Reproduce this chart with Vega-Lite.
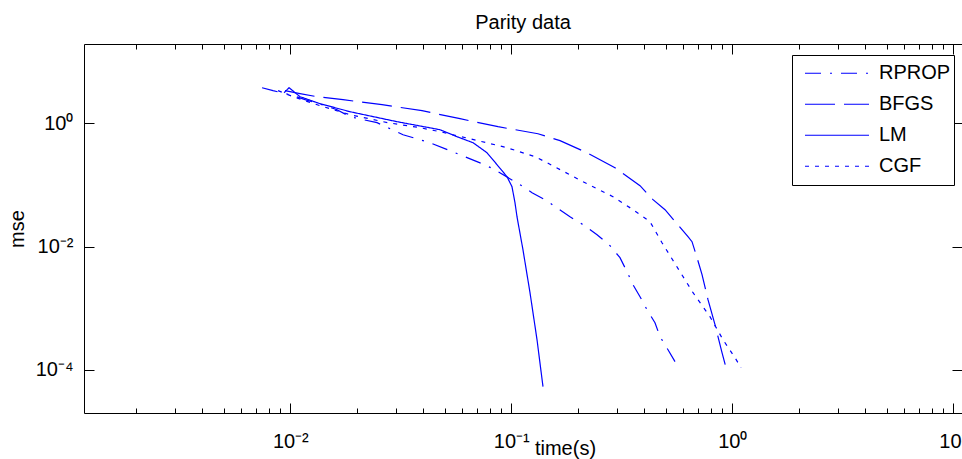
{
  "$schema": "https://vega.github.io/schema/vega-lite/v6.json",
  "width": 878,
  "height": 369,
  "autosize": {"type": "none"},
  "padding": {"left": 84, "top": 44, "right": 0, "bottom": 46},
  "background": "white",
  "title": {"text": "Parity data", "font": "Liberation Sans", "fontSize": 20, "fontWeight": "normal", "color": "#000000", "anchor": "middle", "baseline": "alphabetic", "offset": 17, "dy": 22},
  "config": {
    "view": {"stroke": "#000000", "strokeWidth": 1},
    "axis": {"domain": false, "grid": false, "labelFont": "Liberation Sans", "labelFontSize": 20, "labelColor": "#000000", "tickColor": "#000000", "tickWidth": 1, "titleFont": "Liberation Sans", "titleFontSize": 20, "titleFontWeight": "normal", "titleColor": "#000000", "labelFlush": false, "labelOverlap": false, "labelBound": false}
  },
  "data": {"values": [
    {"method": "RPROP", "t": 0.00745, "mse": 3.80},
    {"method": "RPROP", "t": 0.00835, "mse": 3.40},
    {"method": "RPROP", "t": 0.0100, "mse": 2.92},
    {"method": "RPROP", "t": 0.01166, "mse": 2.43},
    {"method": "RPROP", "t": 0.01391, "mse": 2.01},
    {"method": "RPROP", "t": 0.01627, "mse": 1.67},
    {"method": "RPROP", "t": 0.01863, "mse": 1.285},
    {"method": "RPROP", "t": 0.02468, "mse": 1.027},
    {"method": "RPROP", "t": 0.03236, "mse": 0.655},
    {"method": "RPROP", "t": 0.04285, "mse": 0.486},
    {"method": "RPROP", "t": 0.05561, "mse": 0.334},
    {"method": "RPROP", "t": 0.07368, "mse": 0.2216},
    {"method": "RPROP", "t": 0.08265, "mse": 0.1837},
    {"method": "RPROP", "t": 0.1095, "mse": 0.101},
    {"method": "RPROP", "t": 0.1241, "mse": 0.0749},
    {"method": "RPROP", "t": 0.1421, "mse": 0.0577},
    {"method": "RPROP", "t": 0.1627, "mse": 0.0412},
    {"method": "RPROP", "t": 0.1843, "mse": 0.0305},
    {"method": "RPROP", "t": 0.2111, "mse": 0.02264},
    {"method": "RPROP", "t": 0.2443, "mse": 0.01558},
    {"method": "RPROP", "t": 0.2797, "mse": 0.01032},
    {"method": "RPROP", "t": 0.3103, "mse": 0.00659},
    {"method": "RPROP", "t": 0.3339, "mse": 0.0039},
    {"method": "RPROP", "t": 0.3554, "mse": 0.0024},
    {"method": "RPROP", "t": 0.3823, "mse": 0.001533},
    {"method": "RPROP", "t": 0.4111, "mse": 0.000943},
    {"method": "RPROP", "t": 0.4468, "mse": 0.00058},
    {"method": "RPROP", "t": 0.4709, "mse": 0.000344},
    {"method": "RPROP", "t": 0.5117, "mse": 0.000211},
    {"method": "RPROP", "t": 0.5505, "mse": 0.000135},
    {"method": "BFGS", "t": 0.00946, "mse": 3.40},
    {"method": "BFGS", "t": 0.01106, "mse": 3.04},
    {"method": "BFGS", "t": 0.0132, "mse": 2.715},
    {"method": "BFGS", "t": 0.01732, "mse": 2.427},
    {"method": "BFGS", "t": 0.026, "mse": 2.012},
    {"method": "BFGS", "t": 0.03944, "mse": 1.608},
    {"method": "BFGS", "t": 0.05859, "mse": 1.192},
    {"method": "BFGS", "t": 0.08706, "mse": 0.884},
    {"method": "BFGS", "t": 0.132, "mse": 0.680},
    {"method": "BFGS", "t": 0.1661, "mse": 0.524},
    {"method": "BFGS", "t": 0.2201, "mse": 0.334},
    {"method": "BFGS", "t": 0.2945, "mse": 0.1908},
    {"method": "BFGS", "t": 0.3823, "mse": 0.0973},
    {"method": "BFGS", "t": 0.4377, "mse": 0.0577},
    {"method": "BFGS", "t": 0.4961, "mse": 0.0397},
    {"method": "BFGS", "t": 0.6302, "mse": 0.01445},
    {"method": "BFGS", "t": 0.6572, "mse": 0.0120},
    {"method": "BFGS", "t": 0.6925, "mse": 0.00659},
    {"method": "BFGS", "t": 0.7295, "mse": 0.00349},
    {"method": "BFGS", "t": 0.7762, "mse": 0.00137},
    {"method": "BFGS", "t": 0.835, "mse": 0.000538},
    {"method": "BFGS", "t": 0.8983, "mse": 0.000189},
    {"method": "BFGS", "t": 0.9365, "mse": 0.0001078},
    {"method": "LM", "t": 0.00937, "mse": 3.15},
    {"method": "LM", "t": 0.00987, "mse": 3.80},
    {"method": "LM", "t": 0.01106, "mse": 2.715},
    {"method": "LM", "t": 0.01363, "mse": 2.089},
    {"method": "LM", "t": 0.01863, "mse": 1.549},
    {"method": "LM", "t": 0.0304, "mse": 1.066},
    {"method": "LM", "t": 0.04757, "mse": 0.790},
    {"method": "LM", "t": 0.05679, "mse": 0.608},
    {"method": "LM", "t": 0.06709, "mse": 0.486},
    {"method": "LM", "t": 0.07762, "mse": 0.334},
    {"method": "LM", "t": 0.08615, "mse": 0.2135},
    {"method": "LM", "t": 0.09561, "mse": 0.1363},
    {"method": "LM", "t": 0.1007, "mse": 0.0938},
    {"method": "LM", "t": 0.1039, "mse": 0.0515},
    {"method": "LM", "t": 0.1061, "mse": 0.0305},
    {"method": "LM", "t": 0.1129, "mse": 0.00889},
    {"method": "LM", "t": 0.1215, "mse": 0.00178},
    {"method": "LM", "t": 0.1307, "mse": 0.000307},
    {"method": "LM", "t": 0.1391, "mse": 0.000053},
    {"method": "CGF", "t": 0.0088, "mse": 3.40},
    {"method": "CGF", "t": 0.01028, "mse": 2.715},
    {"method": "CGF", "t": 0.01363, "mse": 1.939},
    {"method": "CGF", "t": 0.01863, "mse": 1.384},
    {"method": "CGF", "t": 0.02767, "mse": 1.027},
    {"method": "CGF", "t": 0.03863, "mse": 0.852},
    {"method": "CGF", "t": 0.04757, "mse": 0.733},
    {"method": "CGF", "t": 0.06501, "mse": 0.564},
    {"method": "CGF", "t": 0.09561, "mse": 0.403},
    {"method": "CGF", "t": 0.128, "mse": 0.2878},
    {"method": "CGF", "t": 0.145, "mse": 0.230},
    {"method": "CGF", "t": 0.2111, "mse": 0.113},
    {"method": "CGF", "t": 0.2885, "mse": 0.0645},
    {"method": "CGF", "t": 0.3554, "mse": 0.0397},
    {"method": "CGF", "t": 0.4242, "mse": 0.0253},
    {"method": "CGF", "t": 0.4807, "mse": 0.01155},
    {"method": "CGF", "t": 0.5799, "mse": 0.0039},
    {"method": "CGF", "t": 0.6642, "mse": 0.00178},
    {"method": "CGF", "t": 0.7924, "mse": 0.000726},
    {"method": "CGF", "t": 0.9077, "mse": 0.000307},
    {"method": "CGF", "t": 1.0285, "mse": 0.0001566},
    {"method": "CGF", "t": 1.095, "mse": 0.0001078}
  ]},
  "resolve": {"axis": {"x": "independent", "y": "independent"}},
  "layer": [
    {
      "mark": {"type": "line", "color": "#0000ff", "strokeWidth": 1.2, "clip": true},
      "encoding": {
        "x": {"field": "t", "type": "quantitative",
          "scale": {"type": "log", "domain": [0.001165, 10.95], "nice": false, "zero": false},
          "axis": {"orient": "bottom",
            "values": [0.002,0.003,0.004,0.005,0.006,0.007,0.008,0.009,0.01,0.02,0.03,0.04,0.05,0.06,0.07,0.08,0.09,0.1,0.2,0.3,0.4,0.5,0.6,0.7,0.8,0.9,1,2,3,4,5,6,7,8,9,10],
            "tickSize": {"condition": {"test": "abs(log(datum.value)/LN10 - round(log(datum.value)/LN10)) < 0.001", "value": -10}, "value": -5},
            "labelPadding": 44, "labelBaseline": "alphabetic",
            "labelExpr": "abs(log(datum.value)/LN10 - round(log(datum.value)/LN10)) > 0.001 ? '' : '10' + (round(log(datum.value)/LN10) == -4 ? '⁻⁴' : round(log(datum.value)/LN10) == -3 ? '⁻³' : round(log(datum.value)/LN10) == -2 ? '⁻²' : round(log(datum.value)/LN10) == -1 ? '⁻¹' : round(log(datum.value)/LN10) == 0 ? '⁰' : '¹')",
            "title": "time(s)", "titleX": 481, "titleY": 41, "titleAlign": "center", "titleBaseline": "alphabetic", "titleAnchor": null}},
        "y": {"field": "mse", "type": "quantitative",
          "scale": {"type": "log", "domain": [0.0000198, 19.48], "nice": false, "zero": false},
          "axis": {"orient": "left", "values": [0.0001, 0.01, 1], "tickSize": -10, "labelPadding": 21,
            "labelExpr": "'10' + (round(log(datum.value)/LN10) == -4 ? '⁻⁴' : round(log(datum.value)/LN10) == -2 ? '⁻²' : '⁰')",
            "title": "mse", "titleX": -61, "titleY": 184.5, "titleAngle": -90, "titleAlign": "center", "titleBaseline": "alphabetic"}},
        "strokeDash": {"field": "method", "type": "nominal",
          "scale": {"domain": ["RPROP", "BFGS", "LM", "CGF"], "range": [[16, 9, 2, 9], [30, 9], [1, 0], [4, 6]]},
          "legend": {"orient": "none", "legendX": 708, "legendY": 11, "title": null, "strokeColor": "#000000", "fillColor": "#ffffff", "padding": 3,
            "symbolType": "stroke", "symbolSize": 4096, "symbolStrokeWidth": 1.2, "symbolStrokeColor": "#0000ff", "symbolOffset": 9, "labelOffset": 9,
            "labelFont": "Liberation Sans", "labelFontSize": 20, "labelColor": "#000000", "clipHeight": 30.5, "rowPadding": 0,
            "labelExpr": "datum.label + '\u00a0\u2009'"}}
      }
    },
    {
      "mark": {"type": "line", "opacity": 0},
      "encoding": {
        "x": {"field": "t", "type": "quantitative",
          "axis": {"orient": "top",
            "values": [0.002,0.003,0.004,0.005,0.006,0.007,0.008,0.009,0.01,0.02,0.03,0.04,0.05,0.06,0.07,0.08,0.09,0.1,0.2,0.3,0.4,0.5,0.6,0.7,0.8,0.9,1,2,3,4,5,6,7,8,9,10],
            "tickSize": {"condition": {"test": "abs(log(datum.value)/LN10 - round(log(datum.value)/LN10)) < 0.001", "value": -10}, "value": -5},
            "labels": false, "title": null}},
        "y": {"field": "mse", "type": "quantitative",
          "axis": {"orient": "right", "values": [0.0001, 0.01, 1], "tickSize": -10, "labels": false, "title": null}}
      }
    }
  ]
}
